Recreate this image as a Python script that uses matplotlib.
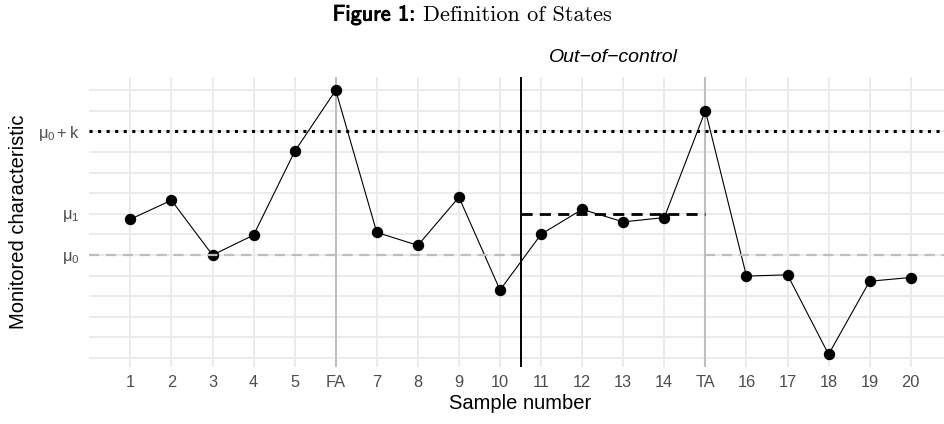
import matplotlib
matplotlib.use("Agg")
import matplotlib.pyplot as plt
import matplotlib.patheffects as pe

# ---- data ----
sample = list(range(1, 21))
values = [1.74, 2.66, 0.0, 0.97, 5.03, 8.0, 1.10, 0.47, 2.81, -1.70,
          1.01, 2.22, 1.61, 1.82, 7.01, -1.02, -0.96, -4.82, -1.27, -1.09]
tick_labels = ["1", "2", "3", "4", "5", "FA", "7", "8", "9", "10",
               "11", "12", "13", "14", "TA", "16", "17", "18", "19", "20"]
mu0 = 0.0
mu1 = 2.0
mu0k = 6.0
change_point = 10.5
fa_x = 6
ta_x = 15
y_grid = list(range(-5, 9))
y_tick_vals = [mu0, mu1, mu0k]
y_tick_labels = [r"$\mu_0$", r"$\mu_1$", r"$\mu_0 + \mathrm{k}$"]

plt.rcParams["font.family"] = ["Liberation Sans", "DejaVu Sans"]
plt.rcParams["mathtext.fontset"] = "custom"
plt.rcParams["mathtext.rm"] = "Liberation Sans"
plt.rcParams["mathtext.it"] = "Liberation Sans"
plt.rcParams["mathtext.bf"] = "Liberation Sans:bold"

W, H = 944, 424
fig = plt.figure(figsize=(W / 100, H / 100), dpi=100)
ax = fig.add_axes([89.3 / W, 1 - 366.7 / H, (951.8 - 89.3) / W, (366.7 - 77.3) / H])
ax.set_xlim(0, 21)
ax.set_ylim(-5.42, 8.63)

for s in ax.spines.values():
    s.set_visible(False)

grid_c = "#EBEBEB"
for yv in y_grid:
    ax.axhline(yv, color=grid_c, lw=1.4, zorder=0)
for xv in sample:
    ax.axvline(xv, color=grid_c, lw=1.4, zorder=0)

# FA / TA vertical lines
ax.axvline(fa_x, color="#BEBEBE", lw=1.5, zorder=1)
ax.axvline(ta_x, color="#BEBEBE", lw=1.5, zorder=1)

# data
ax.plot(sample, values, color="black", lw=0.8, zorder=3)
ax.plot(sample, values, "o", color="black", ms=7.2, zorder=4)

# reference lines
ax.axhline(mu0k, color="black", lw=2.2, linestyle=(0, (1, 1.8)), dash_capstyle="butt", zorder=5)
ax.plot([0, change_point], [mu0, mu0], color="#BEBEBE", lw=1.6,
        linestyle=(0, (4.6, 3.0)), dash_capstyle="butt", zorder=5)
ax.plot([ta_x, 21], [mu0, mu0], color="#BEBEBE", lw=1.6,
        linestyle=(0, (4.6, 3.0)), dash_capstyle="butt", zorder=5)
ax.plot([change_point, ta_x], [mu1, mu1], color="black", lw=2.0,
        linestyle=(0, (4.0, 2.6)), dash_capstyle="butt", zorder=5)
ax.axvline(change_point, color="black", lw=1.4, zorder=5)

ax.set_xticks(sample)
ax.set_xticklabels(tick_labels)
ax.set_yticks(y_tick_vals)
ax.set_yticklabels(y_tick_labels)
ax.tick_params(axis="both", length=0, labelsize=11.8, labelcolor="#4D4D4D")
ax.tick_params(axis="x", pad=6)
ax.tick_params(axis="y", pad=7)

ax.set_xlabel("Sample number", fontsize=14.5, color="black", labelpad=3)
fig.text(19 / W, 1 - 222 / H, "Monitored characteristic", rotation=90,
         fontsize=14.5, ha="center", va="center")
ax.xaxis.label.set_position((((520.5 - 89.3) / (951.8 - 89.3)), 0))

fig.text(613.5 / W, 1 - 57 / H, "Out\u2212of\u2212control", fontsize=14,
         style="italic", ha="center", va="center")

# title
t1 = fig.text(0, 1 - 15 / H, "Figure 1: ", fontsize=16,
              family="cmss10", ha="left", va="center",
              path_effects=[pe.withStroke(linewidth=0.7, foreground="black")])
t2 = fig.text(0, 1 - 15 / H, "Definition of States", fontsize=16,
              family="cmr10", ha="left", va="center")
fig.canvas.draw()
r = fig.canvas.get_renderer()
w1 = t1.get_window_extent(r).width
w2 = t2.get_window_extent(r).width
x0 = (W - (w1 + w2)) / 2
t1.set_x(x0 / W)
t2.set_x((x0 + w1) / W)

fig.savefig("out.png", dpi=100)
